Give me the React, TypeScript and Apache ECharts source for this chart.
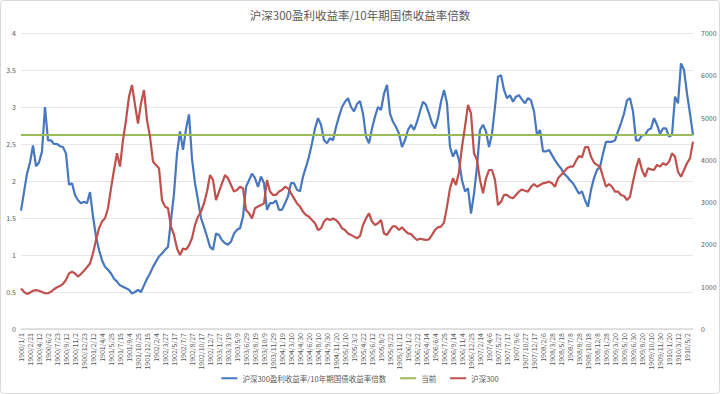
import React, { useEffect, useRef } from "react";
import * as echarts from "echarts";

const titleText = "沪深300盈利收益率/10年期国债收益率倍数";
const seriesNames = ["沪深300盈利收益率/10年期国债收益率倍数", "当前", "沪深300"];

// x-axis tick labels (every 3rd category)
const tickLabels = [
  "1900/1/1", "1900/2/21", "1900/4/12", "1900/6/2", "1900/7/23", "1900/9/12", "1900/11/2", "1900/12/23",
  "1901/2/12", "1901/4/4", "1901/5/25", "1901/7/15", "1901/9/4", "1901/10/25", "1901/12/15",
  "1902/2/4", "1902/3/27", "1902/5/17", "1902/7/7", "1902/8/27", "1902/10/17", "1902/12/7",
  "1903/1/27", "1903/3/19", "1903/5/9", "1903/6/29", "1903/8/19", "1903/10/9", "1903/11/29",
  "1904/1/19", "1904/3/10", "1904/4/30", "1904/6/20", "1904/8/10", "1904/9/30", "1904/11/20",
  "1905/1/10", "1905/3/2", "1905/4/22", "1905/6/12", "1905/8/2", "1905/9/22", "1905/11/12",
  "1906/1/2", "1906/2/22", "1906/4/14", "1906/6/4", "1906/7/25", "1906/9/14", "1906/11/4", "1906/12/25",
  "1907/2/14", "1907/4/6", "1907/5/27", "1907/7/17", "1907/9/6", "1907/10/27", "1907/12/17",
  "1908/2/6", "1908/3/28", "1908/5/18", "1908/7/8", "1908/8/28", "1908/10/18", "1908/12/8",
  "1909/1/28", "1909/3/20", "1909/5/10", "1909/6/30", "1909/8/20", "1909/10/10", "1909/11/30",
  "1910/1/20", "1910/3/12", "1910/5/2",
];

// ratio series (left axis)
const ratioValues = [
  1.60, 1.85, 2.10, 2.25, 2.48, 2.20, 2.25, 2.40, 3.00, 2.55,
  2.55, 2.50, 2.50, 2.47, 2.46, 2.37, 1.95, 1.97, 1.81, 1.74,
  1.70, 1.72, 1.70, 1.85, 1.52, 1.25, 1.07, 0.93, 0.84, 0.80,
  0.75, 0.68, 0.64, 0.59, 0.57, 0.55, 0.53, 0.48, 0.50, 0.53,
  0.50, 0.59, 0.68, 0.75, 0.84, 0.91, 0.98, 1.02, 1.07, 1.11,
  1.47, 1.83, 2.37, 2.67, 2.42, 2.70, 2.90, 2.30, 1.97, 1.74,
  1.50, 1.38, 1.25, 1.11, 1.07, 1.29, 1.27, 1.20, 1.16, 1.14,
  1.18, 1.29, 1.34, 1.36, 1.52, 1.92, 2.01, 2.10, 2.04, 1.92,
  2.06, 1.97, 1.61, 1.70, 1.70, 1.74, 1.61, 1.61, 1.70, 1.79,
  1.97, 1.97, 1.88, 1.86, 2.06, 2.19, 2.33, 2.51, 2.71, 2.85,
  2.76, 2.55, 2.51, 2.58, 2.55, 2.73, 2.87, 3.00, 3.07, 3.12,
  3.00, 2.94, 3.04, 3.08, 2.91, 2.60, 2.51, 2.71, 2.87, 3.00,
  2.96, 3.18, 3.30, 2.91, 2.80, 2.73, 2.64, 2.46, 2.55, 2.69,
  2.76, 2.69, 2.80, 2.94, 3.07, 3.03, 2.91, 2.78, 2.71, 2.85,
  3.07, 3.23, 3.05, 2.46, 2.33, 2.42, 2.28, 2.01, 1.86, 1.90,
  1.56, 1.83, 2.19, 2.69, 2.76, 2.67, 2.46, 2.64, 3.00, 3.41,
  3.43, 3.23, 3.12, 3.16, 3.07, 3.14, 3.16, 3.10, 3.05, 3.12,
  3.09, 2.94, 2.62, 2.69, 2.40, 2.40, 2.42, 2.35, 2.28, 2.22,
  2.17, 2.10, 2.06, 2.01, 1.97, 1.90, 1.83, 1.86, 1.74, 1.65,
  1.88, 2.04, 2.15, 2.19, 2.37, 2.53, 2.53, 2.53, 2.55, 2.67,
  2.78, 2.91, 3.09, 3.12, 2.94, 2.55, 2.55, 2.62, 2.62, 2.69,
  2.71, 2.85, 2.76, 2.64, 2.71, 2.71, 2.60, 2.62, 3.14, 3.05,
  3.59, 3.50, 3.18, 2.91, 2.62,
];

// CSI 300 index (right axis)
const csi300Values = [
  960, 880, 830, 860, 905, 920, 905, 875, 845, 845,
  880, 940, 985, 1015, 1065, 1160, 1315, 1355, 1315, 1240,
  1300, 1380, 1460, 1550, 1790, 2105, 2380, 2540, 2620, 2855,
  3325, 3760, 4155, 3840, 4470, 4940, 5495, 5770, 5300, 4860,
  5340, 5650, 4940, 4550, 3960, 3880, 3800, 3050, 2895, 2855,
  2420, 2225, 1905, 1750, 1905, 1880, 1980, 2145, 2460, 2655,
  2775, 2970, 3250, 3640, 3525, 3050, 3250, 3445, 3640, 3565,
  3405, 3250, 3285, 3365, 3325, 2815, 2735, 2615, 2855, 2895,
  2930, 2970, 3525, 3250, 3170, 3170, 3250, 3285, 3365, 3325,
  3210, 3090, 2970, 2895, 2775, 2695, 2655, 2575, 2500, 2340,
  2380, 2540, 2615, 2575, 2615, 2575, 2500, 2380, 2340, 2260,
  2225, 2185, 2145, 2200, 2460, 2615, 2735, 2540, 2460, 2500,
  2575, 2260, 2225, 2340, 2435, 2420, 2340, 2405, 2325, 2260,
  2245, 2170, 2105, 2135, 2120, 2105, 2120, 2225, 2340, 2405,
  2420, 2515, 2895, 3325, 3565, 3405, 3720, 4310, 4785, 5300,
  5100, 4155, 3995, 3525, 3210, 3565, 3760, 3760, 3525, 2930,
  3010, 3170, 3170, 3115, 3090, 3170, 3250, 3300, 3270, 3250,
  3365, 3430, 3365, 3405, 3445, 3460, 3485, 3445, 3365, 3565,
  3640, 3720, 3800, 3840, 3840, 3980, 4090, 4060, 4295, 4310,
  4075, 3935, 3880, 3840, 3600, 3365, 3430, 3365, 3250, 3250,
  3170, 3145, 3050, 3130, 3485, 3800, 4035, 3760, 3600, 3800,
  3775, 3760, 3880, 3840, 3920, 3880, 3955, 4155, 4075, 3720,
  3600, 3760, 3920, 4035, 4430,
];

// current ratio level (horizontal reference)
const currentLevel = 2.62;

const leftAxisTicks = { min: 0, max: 4, interval: 0.5 };
const rightAxisTicks = { min: 0, max: 7000, interval: 1000 };

export default function App() {
  const ref = useRef<HTMLDivElement>(null);

  useEffect(() => {
    if (!ref.current) return;
    const chart = echarts.init(ref.current, null, { renderer: "svg" });
    const n = ratioValues.length;
    const categories: string[] = [];
    for (let i = 0; i < n; i++) {
      const base = tickLabels[Math.floor(i / 3)] ?? tickLabels[tickLabels.length - 1];
      categories.push(i % 3 === 0 ? base : base + "#" + (i % 3));
    }
    const currentValues = ratioValues.map(() => currentLevel);
    const font = '"Noto Sans CJK SC", "Noto Sans", sans-serif';
    const gray = "#595959";

    chart.setOption({
      animation: false,
      backgroundColor: "#ffffff",
      textStyle: { fontFamily: font },
      title: {
        text: titleText,
        left: "center",
        top: 4,
        textStyle: { fontSize: 11.5, fontWeight: "normal", color: gray, fontFamily: font },
      },
      legend: {
        bottom: 7,
        left: "center",
        icon: "rect",
        itemWidth: 16,
        itemHeight: 2,
        itemGap: 14,
        textStyle: { fontSize: 7.5, color: gray, fontFamily: font },
        data: seriesNames,
      },
      grid: { left: 21, right: 27, top: 33, bottom: 65, containLabel: false },
      xAxis: {
        type: "category",
        boundaryGap: false,
        data: categories,
        axisLine: { lineStyle: { color: "#d9d9d9", width: 1.5 } },
        axisTick: { show: false },
        axisLabel: {
          interval: 2,
          rotate: 90,
          fontSize: 7,
          color: gray,
          margin: 4,
          fontFamily: font,
        },
      },
      yAxis: [
        {
          type: "value",
          position: "left",
          ...leftAxisTicks,
          axisLine: { show: false, lineStyle: { color: gray } },
          axisTick: { show: false },
          splitLine: { lineStyle: { color: "#e6e6e6", width: 1 } },
          axisLabel: {
            fontSize: 7,
            color: gray,
            margin: 5,
            fontFamily: font,
            formatter: (v: number) => String(v),
          },
        },
        {
          type: "value",
          position: "right",
          ...rightAxisTicks,
          axisLine: { show: false, lineStyle: { color: gray } },
          axisTick: { show: false },
          splitLine: { show: false },
          axisLabel: {
            fontSize: 7,
            color: gray,
            margin: 8,
            fontFamily: font,
            formatter: (v: number) => String(v),
          },
        },
      ],
      series: [
        {
          name: seriesNames[0],
          type: "line",
          data: ratioValues,
          yAxisIndex: 0,
          symbol: "none",
          lineStyle: { color: "#4777BE", width: 2.2 },
          itemStyle: { color: "#4777BE" },
        },
        {
          name: seriesNames[1],
          type: "line",
          data: currentValues,
          yAxisIndex: 0,
          symbol: "none",
          lineStyle: { color: "#9BBB59", width: 2 },
          itemStyle: { color: "#9BBB59" },
        },
        {
          name: seriesNames[2],
          type: "line",
          data: csi300Values,
          yAxisIndex: 1,
          symbol: "none",
          lineStyle: { color: "#C0504D", width: 2.2 },
          itemStyle: { color: "#C0504D" },
        },
      ],
      graphic: [
        {
          type: "rect",
          shape: { x: 0.5, y: 0.5, width: 719, height: 393, r: 3 },
          style: { fill: "none", stroke: "#d9d9d9", lineWidth: 1 },
          silent: true,
        },
      ],
    });
    return () => chart.dispose();
  }, []);

  return (
    <div
      ref={ref}
      style={{ position: "fixed", left: 0, top: 0, width: 720, height: 394, background: "#fff" }}
    />
  );
}
